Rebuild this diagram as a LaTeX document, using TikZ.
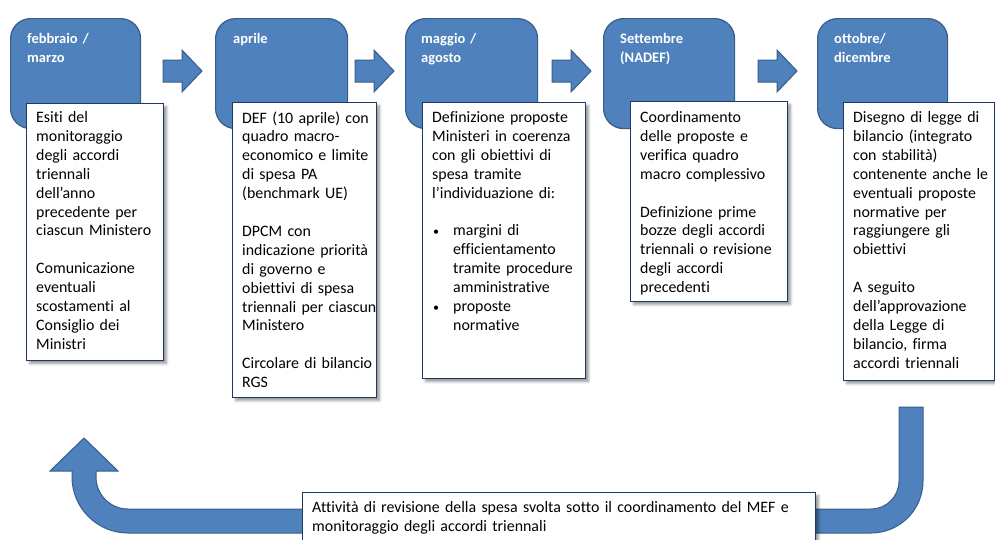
\documentclass[tikz,border=0pt]{standalone}
\usepackage{fontspec}
\setmainfont{Carlito}[Ligatures=NoCommon]
\usetikzlibrary{shadows.blur}
\definecolor{hdrfill}{HTML}{4F81BD}
\definecolor{hdrline}{HTML}{385D8A}
\definecolor{boxline}{HTML}{1F3864}
\tikzset{
  phase/.style={draw=hdrline, line width=1.2pt, fill=hdrfill, rounded corners=20pt,
    anchor=north west, inner sep=0pt},
  hdrtext/.style={text=white, font=\fontsize{14.5}{19}\selectfont\bfseries,
    anchor=base west, inner sep=0pt, text width=125pt, align=left},
  notebox/.style={draw=boxline, line width=1.3pt, fill=white, anchor=north west, inner sep=0pt,
    blur shadow={shadow xshift=3pt, shadow yshift=-3pt, shadow blur radius=2.5pt, shadow opacity=40}},
  notetext/.style={font=\fontsize{15.9}{18.9}\selectfont, anchor=base west, inner sep=0pt,
    text width=175pt, align=left},
  flowarrow/.style={draw=hdrline, line width=1pt, fill=hdrfill},
  stepper/.pic={\path[flowarrow] (0,-11) -- (19,-11) -- (19,-21) -- (39,0) -- (19,21)
    -- (19,11) -- (0,11) -- cycle;}
}
\newcommand{\gapline}{\\[18.9pt]}
\newcommand{\bul}{\makebox[21pt][l]{\hspace{1pt}\raisebox{0.5pt}{\fontsize{12}{12}\selectfont •}}}
\newcommand{\ind}{\hspace*{21pt}}
\begin{document}
\begin{tikzpicture}[x=1pt,y=-1pt]
\useasboundingbox (0,0) rectangle (995,539);

% phase headers
\node[phase, minimum width=130pt, minimum height=110pt] (h1) at (10,18) {};
\node[phase, minimum width=132pt, minimum height=110pt] (h2) at (215,18) {};
\node[phase, minimum width=132pt, minimum height=110pt] (h3) at (405,18) {};
\node[phase, minimum width=131pt, minimum height=110pt] (h4) at (603,18) {};
\node[phase, minimum width=130pt, minimum height=110pt] (h5) at (817,18) {};

\node[hdrtext] (l1) at (27,43) {febbraio /\\marzo};
\node[hdrtext] (l2) at (233,43) {aprile};
\node[hdrtext] (l3) at (421,43) {maggio /\\agosto};
\node[hdrtext] (l4) at (620,43) {Settembre\\(NADEF)};
\node[hdrtext] (l5) at (834,43) {ottobre/\\dicembre};

% arrows between phases
\pic at (163,71) {stepper};
\pic at (355,71) {stepper};
\pic at (552,71) {stepper};
\pic at (758,71) {stepper};

% return arrow along the bottom
\path[flowarrow] (899,407) -- (923,407) -- (923,481)
  .. controls (923,509.7) and (899.7,533) .. (871,533)
  -- (128,533)
  .. controls (97.1,533) and (72,507.9) .. (72,477)
  -- (72,471) -- (50,471) -- (84,438) -- (118,471) -- (96,471) -- (96,477)
  .. controls (96,494.7) and (110.3,509) .. (128,509)
  -- (871,509)
  .. controls (886.5,509) and (899,496.5) .. (899,481) -- cycle;

% note boxes
\node[notebox, minimum width=137pt, minimum height=257pt] (b1) at (26,103) {};
\node[notebox, minimum width=144pt, minimum height=295pt] (b2) at (232,102) {};
\node[notebox, minimum width=163pt, minimum height=276pt] (b3) at (422,102) {};
\node[notebox, minimum width=157pt, minimum height=200pt] (b4) at (630,101) {};
\node[notebox, minimum width=151pt, minimum height=278pt] (b5) at (843,102) {};
\node[notebox, minimum width=513pt, minimum height=60pt] (b6) at (302,492) {};

\node[notetext] (t1) at (36,122.5) {Esiti del\\monitoraggio\\degli accordi\\triennali\\dell’anno\\precedente per\\ciascun Ministero\gapline
Comunicazione\\eventuali\\scostamenti al\\Consiglio dei\\Ministri};

\node[notetext] (t2) at (242,123) {DEF (10 aprile) con\\quadro macro-\\economico e limite\\di spesa PA\\(benchmark UE)\gapline
DPCM con\\indicazione priorità\\di governo e\\obiettivi di spesa\\triennali per ciascun\\Ministero\gapline
Circolare di bilancio\\RGS};

\node[notetext] (t3) at (432,122.5) {Definizione proposte\\Ministeri in coerenza\\con gli obiettivi di\\spesa tramite\\l’individuazione di:\gapline
\bul margini di\\\ind efficientamento\\\ind tramite procedure\\\ind amministrative\\\bul proposte\\\ind normative};

\node[notetext] (t4) at (640,122.5) {Coordinamento\\delle proposte e\\verifica quadro\\macro complessivo\gapline
Definizione prime\\bozze degli accordi\\triennali o revisione\\degli accordi\\precedenti};

\node[notetext] (t5) at (853,122.5) {Disegno di legge di\\bilancio (integrato\\con stabilità)\\contenente anche le\\eventuali proposte\\normative per\\raggiungere gli\\obiettivi\gapline
A seguito\\dell’approvazione\\della Legge di\\bilancio, firma\\accordi triennali};

\node[notetext, text width=510pt] (t6) at (312,512.5) {Attività di revisione della spesa svolta sotto il coordinamento del MEF e\\monitoraggio degli accordi triennali};
\end{tikzpicture}
\end{document}
